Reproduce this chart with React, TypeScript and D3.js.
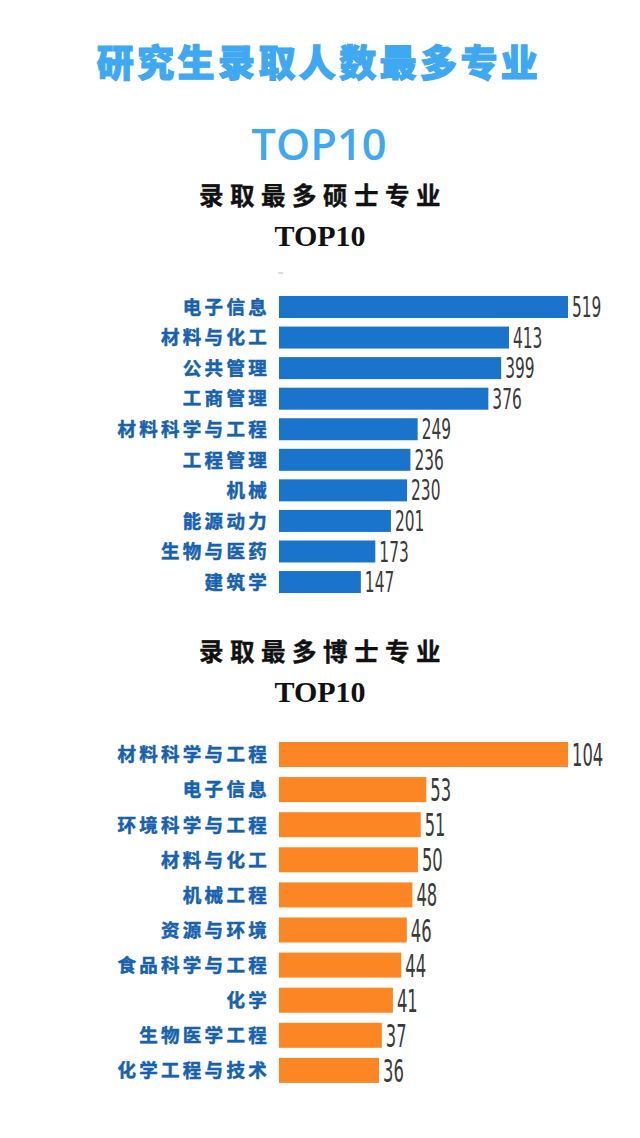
import React from "react";
import * as d3 from "d3";

const masterNames = ["电子信息", "材料与化工", "公共管理", "工商管理", "材料科学与工程", "工程管理", "机械", "能源动力", "生物与医药", "建筑学"];
const masterValues = [519, 413, 399, 376, 249, 236, 230, 201, 173, 147];

const doctorNames = ["材料科学与工程", "电子信息", "环境科学与工程", "材料与化工", "机械工程", "资源与环境", "食品科学与工程", "化学", "生物医学工程", "化学工程与技术"];
const doctorValues = [104, 53, 51, 50, 48, 46, 44, 41, 37, 36];

const TITLE = "研究生录取人数最多专业";
const TITLE2 = "TOP10";
const MASTER_SUB = "录取最多硕士专业";
const DOCTOR_SUB = "录取最多博士专业";
const SUB2 = "TOP10";

const W = 640;
const H = 1138;
const X0 = 279;
const BAR_MAX_W = 289;

type ChartProps = {
  names: string[];
  values: number[];
  top: number;
  step: number;
  bandH: number;
  color: string;
  fontSize: number;
  digitW: number;
};

function BarChart({ names, values, top, step, bandH, color, fontSize, digitW }: ChartProps) {
  const pi = (step - bandH) / step;
  const po = pi / 2;
  const start = top - po * step;
  const y = d3.scaleBand<string>().domain(names).range([start, start + names.length * step]).paddingInner(pi).paddingOuter(po);
  const x = d3.scaleLinear().domain([0, d3.max(values) as number]).range([0, BAR_MAX_W]);
  return (
    <g>
      {names.map((n, i) => {
        const yy = y(n) as number;
        const bw = y.bandwidth();
        const cy = yy + bw / 2;
        const v = values[i];
        const s = String(v);
        return (
          <g key={n}>
            <text
              x={270}
              y={cy + 6.8}
              textAnchor="end"
              fill="#1762ae"
              stroke="#1762ae"
              strokeWidth={0.5}
              fontFamily="'Noto Sans CJK SC', sans-serif"
              fontWeight={700}
              fontSize={18.5}
              letterSpacing={3.3}
            >
              {n}
            </text>
            <rect x={X0} y={yy} width={x(v)} height={bw} fill={color} />
            <text
              x={X0 + x(v) + 4}
              y={cy + fontSize * 0.36}
              fill="#3a3a3a"
              fontFamily="'Liberation Sans Narrow', 'DejaVu Sans Condensed', 'Liberation Sans', sans-serif"
              fontSize={fontSize}
              textLength={s.length * digitW}
              lengthAdjust="spacingAndGlyphs"
            >
              {s}
            </text>
          </g>
        );
      })}
    </g>
  );
}

export default function App() {
  return (
    <svg width={W} height={H} style={{ display: "block", position: "absolute", left: 0, top: 0, background: "#fff" }}>
      <rect x={0} y={0} width={W} height={H} fill="#ffffff" />
      <text x={319} y={77} textAnchor="middle" fill="#3fa8f2" stroke="#3fa8f2" strokeWidth={1.2} fontFamily="'Noto Sans CJK SC', sans-serif" fontWeight={900} fontSize={37} letterSpacing={3.4}>
        {TITLE}
      </text>
      <text x={319} y={160} textAnchor="middle" fill="#3fa8f2" fontFamily="'Open Sans', sans-serif" fontWeight={600} fontSize={43.5}>
        {TITLE2}
      </text>

      <text x={323} y={205} textAnchor="middle" fill="#111" stroke="#111" strokeWidth={0.4} fontFamily="'Noto Sans CJK SC', sans-serif" fontWeight={700} fontSize={24.5} letterSpacing={6.5}>
        {MASTER_SUB}
      </text>
      <text x={320} y={246} textAnchor="middle" fill="#111" fontFamily="'Liberation Serif', serif" fontWeight={700} fontSize={30}>
        {SUB2}
      </text>
      <line x1={278} x2={283} y1={273} y2={273} stroke="#bbb" strokeWidth={1} />

      <BarChart names={masterNames} values={masterValues} top={296} step={30.56} bandH={22} color="#1b74cb" fontSize={28} digitW={9.8} />

      <text x={323} y={661} textAnchor="middle" fill="#111" stroke="#111" strokeWidth={0.4} fontFamily="'Noto Sans CJK SC', sans-serif" fontWeight={700} fontSize={24.5} letterSpacing={6.5}>
        {DOCTOR_SUB}
      </text>
      <text x={320} y={702} textAnchor="middle" fill="#111" fontFamily="'Liberation Serif', serif" fontWeight={700} fontSize={30}>
        {SUB2}
      </text>

      <BarChart names={doctorNames} values={doctorValues} top={742} step={35.1} bandH={25} color="#fd8624" fontSize={32} digitW={10.4} />
    </svg>
  );
}
